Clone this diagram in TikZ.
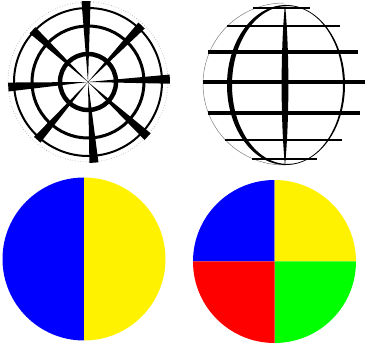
\documentclass[tikz,border=0pt]{standalone}
\begin{document}
\begin{tikzpicture}[x=1pt,y=-1pt,
  ring/.style={draw=black},
  spoke/.style={fill=black},
  lat/.style={draw=black,line cap=butt}]
\useasboundingbox[fill=white] (0,0) rectangle (365,345);
% ---------- top-left: target / wheel ----------
\coordinate (A) at (88,82);
\draw[gray!70,line width=0.6pt,dotted] (A) circle (80);
\draw[ring,line width=4.5pt] (A) circle (28);
\draw[ring,line width=3pt] (A) circle (56);
\draw[ring,line width=2pt] (A) circle (74);
\foreach \ang/\len in {2/82,46.5/78,91.4/81,137/76,183.6/80,228.7/77,274.2/81,317.5/81}{
  \fill[spoke] (A) -- ++({-\ang-3.2}:\len) -- ([shift={({-\ang+3.2}:\len)}]A) -- cycle;
}
% ---------- top-right: globe ----------
\coordinate (G) at (284,84);
\draw[gray,line width=0.5pt] (G) ++(0,81) arc[start angle=90,end angle=270,radius=81];
\fill[black,even odd rule] (286,85) ellipse[x radius=59,y radius=80]
      (287.5,85) ellipse[x radius=55.5,y radius=79];
\fill[black] (285,4) .. controls (289.5,50) and (289.5,120) .. (285,166)
      .. controls (280.5,120) and (280.5,50) .. (285,4) -- cycle;
\draw[lat,line width=2pt]   (253,8)   -- (310,8);
\draw[lat,line width=2.5pt] (227,26)  -- (340,26);
\draw[lat,line width=3.5pt] (208,52)  -- (358,52);
\draw[lat,line width=4.5pt] (203,82)  -- (365,82);
\draw[lat,line width=3.5pt] (208,113) -- (360,113);
\draw[lat,line width=2.5pt] (225,140) -- (342,140);
\draw[lat,line width=2pt]   (252,159) -- (317,159);
% ---------- bottom-left: halves ----------
\coordinate (B) at (84,259);
\fill[blue] (B) -- ++(0,-81.5) arc[start angle=-90,end angle=-270,radius=81.5] -- cycle;
\fill[yellow] (B) -- ++(0,-81.5) arc[start angle=-90,end angle=90,radius=81.5] -- cycle;
% ---------- bottom-right: quarters ----------
\coordinate (Q) at (274.5,261.5);
\fill[blue]   (Q) -- ++(180:81.5) arc[start angle=180,end angle=270,radius=81.5] -- cycle;
\fill[yellow] (Q) -- ++(270:81.5) arc[start angle=270,end angle=360,radius=81.5] -- cycle;
\fill[green]  (Q) -- ++(0:81.5) arc[start angle=0,end angle=90,radius=81.5] -- cycle;
\fill[red]    (Q) -- ++(90:81.5) arc[start angle=90,end angle=180,radius=81.5] -- cycle;
\end{tikzpicture}
\end{document}
